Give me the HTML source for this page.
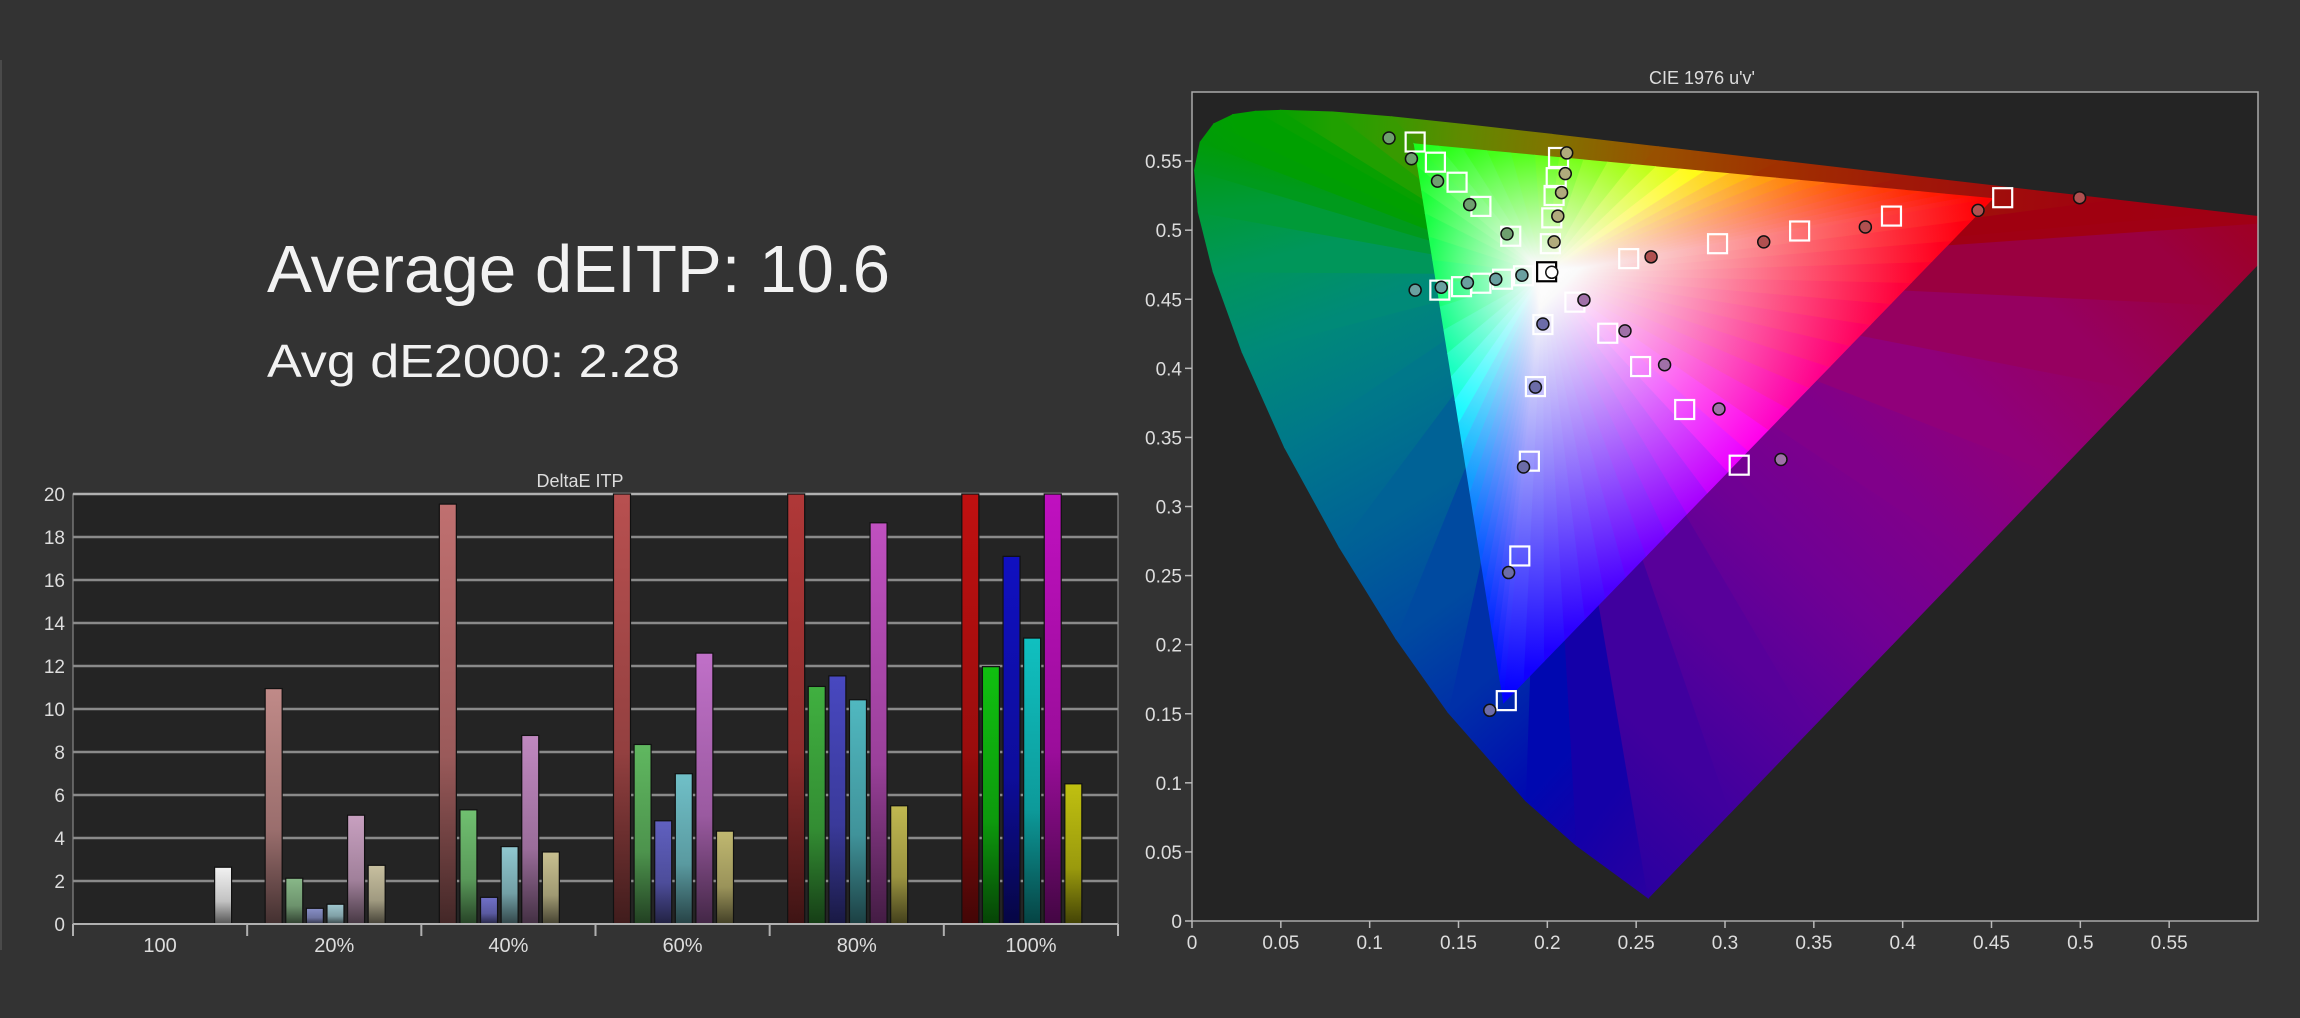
<!DOCTYPE html>
<html><head><meta charset="utf-8">
<style>
html,body{margin:0;padding:0;background:#333333;}
svg{display:block;font-family:"Liberation Sans",sans-serif;}
</style></head>
<body>
<svg id="root" width="2300" height="1018" viewBox="0 0 2300 1018" xmlns="http://www.w3.org/2000/svg">
<defs id="defs"></defs>
<rect x="0" y="0" width="2300" height="1018" fill="#333333"/>
<rect x="0" y="60" width="2" height="890" fill="#4a4a4a"/>
<text x="267" y="292" font-size="67" fill="#f2f2f2" textLength="623" lengthAdjust="spacingAndGlyphs">Average dEITP: 10.6</text>
<text x="267" y="377" font-size="46" fill="#f2f2f2" textLength="413" lengthAdjust="spacingAndGlyphs">Avg dE2000: 2.28</text>

<g id="bar-chart">
<text x="580" y="487" font-size="18" fill="#dddddd" text-anchor="middle">DeltaE ITP</text>
<rect x="73" y="494" width="1045" height="430" fill="#242424" stroke="#9a9a9a" stroke-width="1"/>
<g id="bar-grid"></g>
<g id="bar-marks"></g>
<g id="bar-axes"></g>
</g>

<g id="cie-chart">
<text x="1702" y="84" font-size="18" fill="#dddddd" text-anchor="middle">CIE 1976 u'v'</text>
<clipPath id="cieclip"><rect x="1192" y="92" width="1066" height="829"/></clipPath>
<rect x="1192" y="92" width="1066" height="829" fill="#242424"/>
<g id="cie-gamut" clip-path="url(#cieclip)"></g>
<g id="cie-points"></g>
<rect x="1192" y="92" width="1066" height="829" fill="none" stroke="#aaaaaa" stroke-width="1.5"/>
<g id="cie-axes"></g>
</g>
</svg>
<script>
// ---------- Bar chart data ----------
const barCategories = ["100","20%","40%","60%","80%","100%"];
const redValues     = [null, 10.95, 19.53, 20, 20, 20];
const greenValues   = [null, 2.13, 5.31, 8.35, 11.05, 11.97];
const blueValues    = [null, 0.73, 1.24, 4.8, 11.54, 17.1];
const cyanValues    = [null, 0.92, 3.6, 6.99, 10.43, 13.3];
const magentaValues = [null, 5.06, 8.77, 12.6, 18.66, 20];
const yellowValues  = [null, 2.73, 3.35, 4.32, 5.5, 6.52];
const whiteValues   = [2.64, null, null, null, null, null];
const barTicks = [0,2,4,6,8,10,12,14,16,18,20];

// ---------- CIE data ----------
const targetU = [0.1256,0.1370,0.1492,0.1626,0.1794, 0.2063,0.2050,0.2038,0.2025,0.2017, 0.1996, 0.1395,0.1517,0.1626,0.1748,0.1866, 0.2155,0.2340,0.2525,0.2773,0.3080, 0.1975,0.1933,0.1899,0.1845,0.1769, 0.2458,0.2958,0.3420,0.3937,0.4563];
const targetV = [0.5638,0.5492,0.5347,0.5172,0.4956, 0.5526,0.5380,0.5251,0.5089,0.4902, 0.4699, 0.4566,0.4591,0.4616,0.4645,0.4670, 0.4479,0.4254,0.4013,0.3702,0.3299, 0.4317,0.3868,0.3328,0.2642,0.1595, 0.4794,0.4902,0.4994,0.5102,0.5235];
const measuredU = [0.1109,0.1235,0.1382,0.1563,0.1773, 0.2109,0.2101,0.2080,0.2059,0.2038, 0.2025, 0.1256,0.1403,0.1550,0.1710,0.1857, 0.2206,0.2437,0.2660,0.2966,0.3315, 0.1975,0.1933,0.1866,0.1782,0.1676, 0.2584,0.3218,0.3790,0.4424,0.4996];
const measuredV = [0.5667,0.5517,0.5355,0.5185,0.4973, 0.5559,0.5409,0.5272,0.5102,0.4915, 0.4695, 0.4566,0.4587,0.4620,0.4645,0.4674, 0.4495,0.4271,0.4026,0.3706,0.3340, 0.4321,0.3864,0.3286,0.2522,0.1525, 0.4807,0.4915,0.5023,0.5143,0.5235];
const pointSeries = ["g","g","g","g","g","y","y","y","y","y","w","c","c","c","c","c","m","m","m","m","m","b","b","b","b","b","r","r","r","r","r"];
const cieTicksU = [0,0.05,0.1,0.15,0.2,0.25,0.3,0.35,0.4,0.45,0.5,0.55];
const cieTicksV = [0,0.05,0.1,0.15,0.2,0.25,0.3,0.35,0.4,0.45,0.5,0.55];

const NS = "http://www.w3.org/2000/svg";
function mk(tag, attrs, parent){ const e=document.createElementNS(NS,tag); for(const k in attrs) e.setAttribute(k,attrs[k]); parent.appendChild(e); return e; }
const defs = document.getElementById('defs');

// ---------- Bar chart ----------
const bL=73, bR=1118, bT=494, bB=924, bMax=20;
const groupW=(bR-bL)/barCategories.length;
function by(v){ return bB - Math.min(v,bMax)/bMax*(bB-bT); }
const grid=document.getElementById('bar-grid');
barTicks.forEach(t=>{
  if(t>0){ const l=mk('line',{x1:bL,x2:bR,y1:by(t),y2:by(t),stroke:t===20?'#b0b0b0':'#8a8a8a','stroke-width':2.5},grid);
  
   }
  const tx=mk('text',{x:bL-8,y:by(t)+7,'font-size':19,fill:'#dddddd','text-anchor':'end'},grid);
  tx.textContent=t;
  
  
});
const axes=document.getElementById('bar-axes');
mk('line',{x1:bL,x2:bR,y1:bB,y2:bB,stroke:'#b0b0b0','stroke-width':2},axes);
for(let k=0;k<=barCategories.length;k++){
  const x=bL+k*groupW;
  const l=mk('line',{x1:x,x2:x,y1:bB,y2:bB+12,stroke:'#b0b0b0','stroke-width':2},axes);
  
  
}
barCategories.forEach((c,k)=>{
  const t=mk('text',{x:bL+k*groupW+groupW/2,y:bB+28,'font-size':20,fill:'#dddddd','text-anchor':'middle'},axes);
  t.textContent=c;
  
  
});
const seriesList=[["red",redValues],["green",greenValues],["blue",blueValues],["cyan",cyanValues],["magenta",magentaValues],["yellow",yellowValues],["white",whiteValues]];
const barColors={
 red:['#c08a88','#c07070','#b85050','#b03838','#c01010'],
 green:['#88b888','#70c070','#60b860','#40b040','#10c010'],
 blue:['#8890c8','#7070c8','#6060c0','#4848c0','#1010c0'],
 cyan:['#a0c8d0','#90c8d0','#70c0c8','#50b8c0','#10c0c0'],
 magenta:['#c8a0c0','#c088c0','#c070c8','#c050c0','#c010c0'],
 yellow:['#c8c0a0','#c8c090','#c0b870','#c0b850','#c0c010'],
 white:['#f2f2f2']
};
function dark(hex,f){const n=parseInt(hex.slice(1),16);const r=Math.round((n>>16&255)*f),g=Math.round((n>>8&255)*f),b=Math.round((n&255)*f);return `rgb(${r},${g},${b})`;}
const marks=document.getElementById('bar-marks');
let gid=0;
seriesList.forEach(([name,vals],si)=>{
  vals.forEach((v,k)=>{
    if(v===null||v===undefined) return;
    const col = name==='white'?barColors.white[0]:barColors[name][Math.max(0,k-1)];
    const id='bg'+(gid++);
    const g=mk('linearGradient',{id:id,x1:0,y1:0,x2:0,y2:1},defs);
    mk('stop',{offset:0,'stop-color':col},g);
    mk('stop',{offset:0.6,'stop-color':dark(col,0.8)},g);
    mk('stop',{offset:1,'stop-color':dark(col,0.35)},g);
    const x=bL+k*groupW+18+si*20.6;
    const y=by(v);
    const r=mk('rect',{x:x,y:y,width:17,height:bB-y,fill:`url(#${id})`,stroke:'#111','stroke-width':1.2},marks);
    
    
  });
});

// ---------- CIE chart ----------
const cL=1192, cR=2258, cT=92, cB=921, uMax=0.6, vMax=0.6;
function sx(u){return cL+u/uMax*(cR-cL);}
function sy(v){return cB-v/vMax*(cB-cT);}
const cax=document.getElementById('cie-axes');
cieTicksU.forEach(t=>{
  mk('line',{x1:sx(t),x2:sx(t),y1:cB,y2:cB+7,stroke:'#bbb','stroke-width':1.5},cax);
  const tx=mk('text',{x:sx(t),y:cB+28,'font-size':19,fill:'#dddddd','text-anchor':'middle'},cax);
  tx.textContent=t;
  
  
});
cieTicksV.forEach(t=>{
  mk('line',{x1:cL-7,x2:cL,y1:sy(t),y2:sy(t),stroke:'#bbb','stroke-width':1.5},cax);
  const tx=mk('text',{x:cL-10,y:sy(t)+7,'font-size':19,fill:'#dddddd','text-anchor':'end'},cax);
  tx.textContent=t;
  
  
});

const locus=[
 [0.2568,0.0166,'#2a00a0'],[0.2161,0.0549,'#1400a8'],[0.1877,0.0871,'#0008b0'],[0.1441,0.1510,'#0030a8'],
 [0.1147,0.2044,'#004aa0'],[0.0828,0.2708,'#006296'],[0.0521,0.3427,'#00788a'],[0.0282,0.4117,'#008a78'],
 [0.0119,0.4698,'#00965a'],[0.0035,0.5131,'#009a38'],[0.0014,0.5432,'#009a1c'],[0.0046,0.5638,'#009c08'],
 [0.0123,0.5770,'#009e04'],[0.0231,0.5837,'#00a000'],[0.0360,0.5861,'#00a000'],[0.0501,0.5868,'#08a000'],[0.0792,0.5856,'#20a000'],[0.1127,0.5821,'#389a00'],
 [0.1531,0.5766,'#608a00'],[0.2026,0.5694,'#807400'],[0.2623,0.5604,'#985000'],[0.3315,0.5501,'#a03000'],
 [0.4035,0.5393,'#a01808'],[0.5203,0.5219,'#a00010'],[0.5830,0.5125,'#a00014'],[0.6234,0.5065,'#a00018']
];
const pA=[0.6234,0.5065], pB=[0.2568,0.0166];
const purpleCols=['#a00018','#9a0040','#960060','#90007a','#80008a','#700094','#58009a','#40009e','#2a00a0'];
const gam=document.getElementById('cie-gamut');
const W=[0.1978,0.4683];
const ring=locus.slice();
for(let i=1;i<purpleCols.length-1;i++){
  const t=i/(purpleCols.length-1);
  ring.push([pA[0]+(pB[0]-pA[0])*t,pA[1]+(pB[1]-pA[1])*t,purpleCols[i]]);
}
ring.push(locus[0]);
for(let i=0;i<ring.length-1;i++){
  const a=ring[i],b=ring[i+1];
  const id='og'+i;
  const g=mk('linearGradient',{id:id,gradientUnits:'userSpaceOnUse',x1:sx(a[0]),y1:sy(a[1]),x2:sx(b[0]),y2:sy(b[1])},defs);
  mk('stop',{offset:0,'stop-color':a[2]},g);
  mk('stop',{offset:1,'stop-color':b[2]},g);
  const p=mk('polygon',{points:`${sx(W[0])},${sy(W[1])} ${sx(a[0])},${sy(a[1])} ${sx(b[0])},${sy(b[1])}`,fill:`url(#${id})`,stroke:`url(#${id})`,'stroke-width':0.8},gam);
  
  
}
const prim=[[0.4507,0.5229,[1,0,0]],[0.125,0.5625,[0.1,1,0.1]],[0.1754,0.1579,[0,0,1]]];
const N=24;
let sid=0;
for(let e=0;e<3;e++){
  const A=prim[e],B=prim[(e+1)%3];
  for(let i=0;i<N;i++){
    const t0=i/N,t1=(i+1)/N,tm=(i+0.5)/N;
    const P0=[A[0]+(B[0]-A[0])*t0,A[1]+(B[1]-A[1])*t0];
    const P1=[A[0]+(B[0]-A[0])*t1,A[1]+(B[1]-A[1])*t1];
    const Pm=[A[0]+(B[0]-A[0])*tm,A[1]+(B[1]-A[1])*tm];
    let c=[0,1,2].map(j=>A[2][j]*(1-tm)+B[2][j]*tm);
    const mx=Math.max(...c); c=c.map(x=>Math.round(x/mx*255));
    const col=`rgb(${c[0]},${c[1]},${c[2]})`;
    const cx=sx(W[0]),cy=sy(W[1]);
    const r=Math.hypot(sx(Pm[0])-cx,sy(Pm[1])-cy);
    const id='ig'+(sid++);
    const g=mk('radialGradient',{id:id,gradientUnits:'userSpaceOnUse',cx:cx,cy:cy,r:r},defs);
    mk('stop',{offset:0,'stop-color':'#ffffff'},g);
    mk('stop',{offset:0.08,'stop-color':'#fafafa'},g);
    mk('stop',{offset:1,'stop-color':col},g);
    const p=mk('polygon',{points:`${cx},${cy} ${sx(P0[0])},${sy(P0[1])} ${sx(P1[0])},${sy(P1[1])}`,fill:`url(#${id})`,stroke:`url(#${id})`,'stroke-width':0.8},gam);
    
    
  }
}
const pts=document.getElementById('cie-points');
const circleFill={g:'#6fa06f',y:'#b0ab7c',c:'#6aa0a0',m:'#a070a8',b:'#6c6ca8',r:'#b05050',w:'#ffffff'};
targetU.forEach((u,i)=>{
  const isW=pointSeries[i]==='w';
  const s=mk('rect',{x:sx(u)-9.5,y:sy(targetV[i])-9.5,width:19,height:19,fill:isW?'#ffffff':'none',stroke:isW?'#000':'#ffffff','stroke-width':2.2},pts);
  
  
});
measuredU.forEach((u,i)=>{
  const c=mk('circle',{cx:sx(u),cy:sy(measuredV[i]),r:6,fill:circleFill[pointSeries[i]],stroke:'#111','stroke-width':1.5},pts);
  
  
});
</script>
</body></html>
